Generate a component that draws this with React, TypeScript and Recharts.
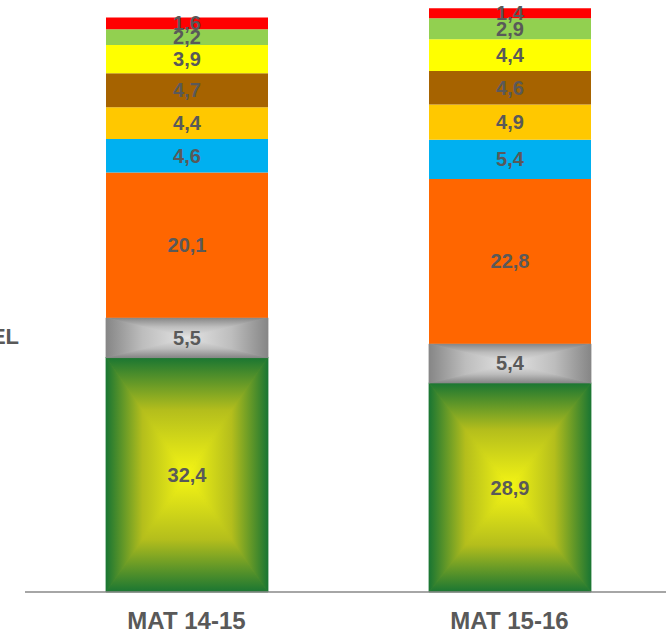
import React from "react";
import { BarChart, Bar, XAxis, YAxis, LabelList } from "recharts";

const categories = ["MAT 14-15", "MAT 15-16"];
const green = [32.4, 28.9];
const grey = [5.5, 5.4];
const orange = [20.1, 22.8];
const blue = [4.6, 5.4];
const amber = [4.4, 4.9];
const brown = [4.7, 4.6];
const yellow = [3.9, 4.4];
const lightGreen = [2.2, 2.9];
const red = [1.6, 1.4];

const data = categories.map((c, i) => ({
  name: c,
  green: green[i],
  grey: grey[i],
  orange: orange[i],
  blue: blue[i],
  amber: amber[i],
  brown: brown[i],
  yellow: yellow[i],
  lightGreen: lightGreen[i],
  red: red[i],
}));

const FONT = "'Liberation Sans', Arial, sans-serif";
const LABEL_COLOR = "#595959";

const fmt = (v: any) => String(v).replace(".", ",");

const GradDefs = ({ id, edge, mid, center }: { id: string; edge: string; mid: string; center: string }) => {
  const dirs: Record<string, [string, string, string, string]> = {
    t: ["0", "0", "0", "1"],
    b: ["0", "1", "0", "0"],
    l: ["0", "0", "1", "0"],
    r: ["1", "0", "0", "0"],
  };
  return (
    <>
      {Object.keys(dirs).map((k) => (
        <linearGradient key={k} id={`${id}-${k}`} x1={dirs[k][0]} y1={dirs[k][1]} x2={dirs[k][2]} y2={dirs[k][3]}>
          <stop offset="0" stopColor={edge} />
          <stop offset="0.45" stopColor={mid} />
          <stop offset="1" stopColor={center} />
        </linearGradient>
      ))}
    </>
  );
};

const makeBoxShape = (id: string, base: string) => (props: any) => {
  const { x, y, width, height } = props;
  if (!width || !height) return null;
  const cx = x + width / 2;
  const cy = y + height / 2;
  const x2 = x + width;
  const y2 = y + height;
  const sw = 0.8;
  return (
    <g>
      <rect x={x} y={y} width={width} height={height} fill={base} />
      <polygon points={`${x},${y} ${x2},${y} ${cx},${cy}`} fill={`url(#${id}-t)`} stroke={`url(#${id}-t)`} strokeWidth={sw} />
      <polygon points={`${x},${y2} ${x2},${y2} ${cx},${cy}`} fill={`url(#${id}-b)`} stroke={`url(#${id}-b)`} strokeWidth={sw} />
      <polygon points={`${x},${y} ${x},${y2} ${cx},${cy}`} fill={`url(#${id}-l)`} stroke={`url(#${id}-l)`} strokeWidth={sw} />
      <polygon points={`${x2},${y} ${x2},${y2} ${cx},${cy}`} fill={`url(#${id}-r)`} stroke={`url(#${id}-r)`} strokeWidth={sw} />
    </g>
  );
};

const greenShape = makeBoxShape("gg", "#9aa826");
const greyShape = makeBoxShape("gr", "#b4b4b4");

const CatTick = (props: any) => {
  const { x, y, payload } = props;
  return (
    <text
      x={x}
      y={y}
      dy={36}
      textAnchor="middle"
      fill={LABEL_COLOR}
      fontFamily={FONT}
      fontWeight="bold"
      fontSize={24}
    >
      {payload.value}
    </text>
  );
};

const labelProps = {
  position: "center" as const,
  formatter: fmt,
  fill: LABEL_COLOR,
  fontFamily: FONT,
  fontWeight: "bold",
  fontSize: 20,
};

const series: { key: string; color: string; shape?: any }[] = [
  { key: "green", color: "#1c7a30", shape: greenShape },
  { key: "grey", color: "#888888", shape: greyShape },
  { key: "orange", color: "#ff6600" },
  { key: "blue", color: "#00b0f0" },
  { key: "amber", color: "#ffc800" },
  { key: "brown", color: "#a66300" },
  { key: "yellow", color: "#ffff00" },
  { key: "lightGreen", color: "#92d050" },
  { key: "red", color: "#ff0000" },
];

export default function App() {
  return (
    <div
      style={{
        position: "absolute",
        left: 0,
        top: 0,
        width: 666,
        height: 634,
        overflow: "hidden",
        background: "#ffffff",
      }}
    >
      <BarChart
        width={690}
        height={634}
        data={data}
        margin={{ top: 6, right: 19, bottom: 0, left: 25 }}
        barSize={162}
      >
        <defs>
          <GradDefs id="gg" edge="#1a7632" mid="#b4be1c" center="#f6f614" />
          <GradDefs id="gr" edge="#868686" mid="#bdbdbd" center="#e4e4e4" />
        </defs>
        <XAxis
          xAxisId={0}
          type="number"
          domain={[0, 2]}
          ticks={[0, 1, 2]}
          tick={false}
          tickSize={6}
          height={1}
          stroke="#898989"
          strokeWidth={1.5}
        />
        <XAxis
          dataKey="name"
          xAxisId={1}
          axisLine={false}
          tickLine={false}
          tickSize={0}
          tickMargin={0}
          height={41}
          interval={0}
          tick={<CatTick />}
        />
        <YAxis hide domain={[0, 81]} />
        {series.map((s) => (
          <Bar
            key={s.key}
            dataKey={s.key}
            stackId="a"
            xAxisId={1}
            fill={s.color}
            shape={s.shape}
            isAnimationActive={false}
          >
            <LabelList dataKey={s.key} {...labelProps} />
          </Bar>
        ))}
      </BarChart>
      <div
        style={{
          position: "absolute",
          right: 666 - 19,
          top: 324,
          fontFamily: FONT,
          fontWeight: "bold",
          fontSize: 22,
          color: LABEL_COLOR,
          whiteSpace: "nowrap",
          lineHeight: "26px",
        }}
      >
        EL
      </div>
    </div>
  );
}
